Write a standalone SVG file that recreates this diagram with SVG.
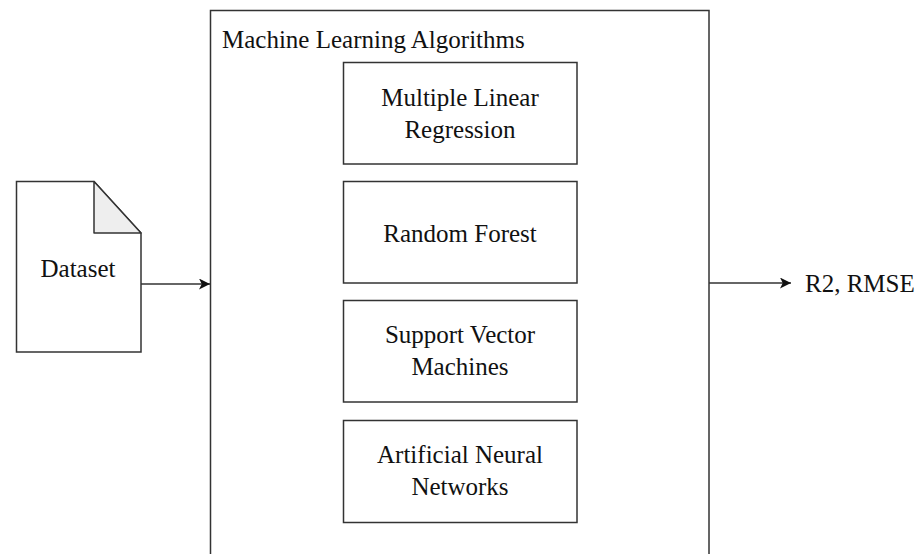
<svg xmlns="http://www.w3.org/2000/svg" width="921" height="554" viewBox="0 0 921 554">
<defs>
<style>
.box{fill:#fff;stroke:#333;stroke-width:1.5}
.t{font-family:"Liberation Serif","Times New Roman",serif;font-size:25px;fill:#111}
.c{text-anchor:middle}
.edge{fill:none;stroke:#333;stroke-width:1.3}
</style>
<marker id="arr" viewBox="0 0 10 10" refX="10" refY="5" markerWidth="11" markerHeight="11" markerUnits="userSpaceOnUse" orient="auto">
<path d="M0,0 L10,5 L0,10 L2.5,5 Z" fill="#111"/>
</marker>
</defs>
<rect width="921" height="554" fill="#fff"/>
<g id="ml-algorithms">
<rect class="box" x="210.5" y="10.5" width="498.5" height="560"/>
<text class="t" x="222" y="48">Machine Learning Algorithms</text>
</g>
<g id="mlr">
<rect class="box" x="343.5" y="62.5" width="233.5" height="101.5"/>
<text class="t c" x="460" y="106">Multiple Linear</text>
<text class="t c" x="460" y="138">Regression</text>
</g>
<g id="rf">
<rect class="box" x="343.5" y="181.5" width="233.5" height="101.5"/>
<text class="t c" x="460" y="242">Random Forest</text>
</g>
<g id="svm">
<rect class="box" x="343.5" y="300.5" width="233.5" height="101.5"/>
<text class="t c" x="460" y="343">Support Vector</text>
<text class="t c" x="460" y="375">Machines</text>
</g>
<g id="ann">
<rect class="box" x="343.5" y="420.5" width="233.5" height="102"/>
<text class="t c" x="460" y="463">Artificial Neural</text>
<text class="t c" x="460" y="495">Networks</text>
</g>
<g id="dataset">
<path class="box" d="M16.5,181.5 H94 L141,233 V352 H16.5 Z"/>
<path d="M94,181.5 V233 H141 Z" fill="#eee" stroke="#333" stroke-width="1.5" stroke-linejoin="round"/>
<text class="t c" x="78" y="277">Dataset</text>
</g>
<g id="output">
<text class="t" x="805" y="292">R2, RMSE</text>
</g>
<g id="connectors">
<path class="edge" d="M141,284 H210" marker-end="url(#arr)"/>
<path class="edge" d="M709,283 H791" marker-end="url(#arr)"/>
</g>
</svg>
